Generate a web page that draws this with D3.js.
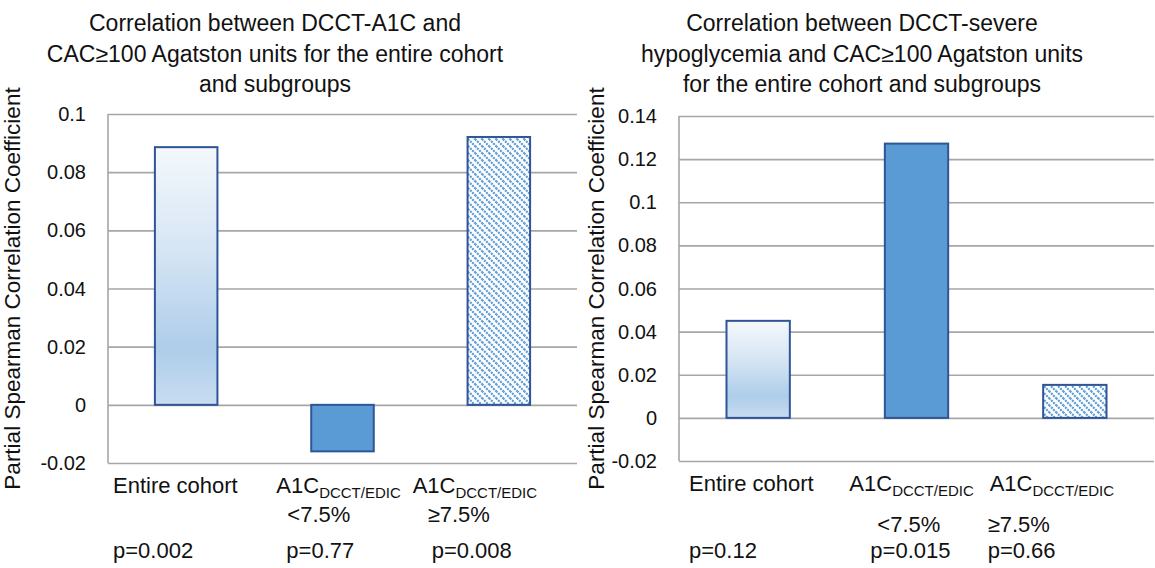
<!DOCTYPE html>
<html>
<head>
<meta charset="utf-8">
<script src="https://cdn.jsdelivr.net/npm/d3@7"></script>
<style>
  body { margin: 0; background: #fff; }
  svg text { font-family: "Liberation Sans", Arial, sans-serif; fill: #111; }
  .grid line { stroke: #a6a6a6; stroke-width: 1.6; }
  .grid path { display: none; }
</style>
</head>
<body>
<div id="chart"></div>
<script>
// categories and values
var categories = ["Entire cohort", "A1C <7.5%", "A1C ≥7.5%"];
var a1cValues = [0.0886, -0.0160, 0.0921];
var hypoValues = [0.0450, 0.1272, 0.0153];
var a1cPvalues = ["p=0.002", "p=0.77", "p=0.008"];
var hypoPvalues = ["p=0.12", "p=0.015", "p=0.66"];
var a1cTicks = [-0.02, 0, 0.02, 0.04, 0.06, 0.08, 0.1];
var hypoTicks = [-0.02, 0, 0.02, 0.04, 0.06, 0.08, 0.1, 0.12, 0.14];
var a1cTitle = ["Correlation between DCCT-A1C and",
                "CAC≥100 Agatston units for the entire cohort",
                "and subgroups"];
var hypoTitle = ["Correlation between DCCT-severe",
                 "hypoglycemia and CAC≥100 Agatston units",
                 "for the entire cohort and subgroups"];

var W = 1155, H = 568;
var svg = d3.select("#chart").append("svg")
    .attr("width", W)
    .attr("height", H);

// fills: gradient, solid, hatch
var defs = svg.append("defs");
var grad = defs.append("linearGradient")
    .attr("id", "barGrad")
    .attr("x1", 0).attr("y1", 0).attr("x2", 0).attr("y2", 1);
grad.append("stop").attr("offset", "0%").attr("stop-color", "#f4f8fc");
grad.append("stop").attr("offset", "40%").attr("stop-color", "#d6e5f4");
grad.append("stop").attr("offset", "78%").attr("stop-color", "#aecdea");
grad.append("stop").attr("offset", "100%").attr("stop-color", "#c9dcf0");

var pat = defs.append("pattern")
    .attr("id", "hatch")
    .attr("patternUnits", "userSpaceOnUse")
    .attr("width", 7).attr("height", 7);
pat.append("rect").attr("width", 7).attr("height", 7).attr("fill", "#fff");
pat.append("path")
    .attr("d", "M-1,-1 L8,8 M-1,6 L1,8 M6,-1 L8,1")
    .attr("stroke", "#5b9bd5")
    .attr("stroke-width", 2.2)
    .attr("stroke-dasharray", "2,1");

var fills = ["url(#barGrad)", "#5b9bd5", "url(#hatch)"];

const drawPanel = (opt) => {
  var x = d3.scaleBand()
      .domain(categories)
      .range([opt.left, opt.right])
      .paddingInner(0.6)
      .paddingOuter(0.3);
  var slot = d3.scaleBand()
      .domain(categories)
      .range([opt.left, opt.right]);
  var y = d3.scaleLinear()
      .domain(d3.extent(opt.ticks))
      .range([opt.bottom, opt.top]);
  var fmt = function(d) { return String(+d.toFixed(2)); };

  var g = svg.append("g");

  // gridlines
  g.append("g")
      .attr("class", "grid")
      .attr("transform", "translate(" + opt.left + ",0)")
      .call(d3.axisLeft(y)
          .tickValues(opt.ticks)
          .tickSize(-(opt.right - opt.left))
          .tickFormat(""));

  // left axis line
  g.append("line")
      .attr("x1", opt.left).attr("x2", opt.left)
      .attr("y1", y(d3.max(opt.ticks))).attr("y2", y(d3.min(opt.ticks)))
      .attr("stroke", "#a6a6a6")
      .attr("stroke-width", 1.6);

  // tick labels
  g.selectAll(".tick-label")
    .data(opt.ticks)
    .enter().append("text")
      .attr("x", opt.left - 22)
      .attr("y", function(d) { return y(d); })
      .attr("dy", "0.35em")
      .attr("text-anchor", "end")
      .style("font-size", "20px")
      .text(fmt);

  // bars
  g.selectAll(".bar")
    .data(opt.values)
    .enter().append("rect")
      .attr("x", function(d, i) { return x(categories[i]); })
      .attr("width", x.bandwidth())
      .attr("y", function(d) { return y(Math.max(0, d)); })
      .attr("height", function(d) { return Math.abs(y(d) - y(0)); })
      .attr("fill", function(d, i) { return fills[i]; })
      .attr("stroke", "#2f5597")
      .attr("stroke-width", 2);

  // y axis title
  g.append("text")
      .attr("transform", "translate(" + opt.yTitleX + "," + ((opt.top + opt.bottom) / 2) + ") rotate(-90)")
      .attr("text-anchor", "middle")
      .style("font-size", "22.5px")
      .text("Partial Spearman Correlation Coefficient");

  // chart title
  g.selectAll(".title")
    .data(opt.title)
    .enter().append("text")
      .attr("x", opt.titleX)
      .attr("y", function(d, i) { return 31 + i * 30.5; })
      .attr("text-anchor", "middle")
      .style("font-size", "23px")
      .text(function(d) { return d; });

  // category labels
  categories.forEach(function(c, i) {
    var x0 = slot(c);
    var t = g.append("text")
        .attr("x", x0 + opt.lab[i])
        .attr("y", opt.labY)
        .style("font-size", "22px");
    if (i === 0) {
      t.text("Entire cohort");
    } else {
      t.append("tspan").text("A1C");
      t.append("tspan")
          .attr("dy", 5)
          .style("font-size", "15px")
          .text("DCCT/EDIC");
      g.append("text")
          .attr("x", x0 + opt.sub[i])
          .attr("y", opt.subY)
          .style("font-size", "22px")
          .text(i === 1 ? "<7.5%" : "≥7.5%");
    }
  });

  // p values
  g.selectAll(".pval")
    .data(opt.pvals)
    .enter().append("text")
      .attr("x", function(d, i) { return slot(categories[i]) + opt.pv[i]; })
      .attr("y", 558)
      .style("font-size", "22px")
      .text(function(d) { return d; });
};

drawPanel({
  values: a1cValues, ticks: a1cTicks, pvals: a1cPvalues, title: a1cTitle,
  left: 108, right: 577, top: 114, bottom: 463,
  titleX: 275, yTitleX: 20,
  lab: [5, 12, -8], labY: 493,
  sub: [0, 23, 7], subY: 522,
  pv: [5, 22, 11]
});

drawPanel({
  values: hypoValues, ticks: hypoTicks, pvals: hypoPvalues, title: hypoTitle,
  left: 679, right: 1154, top: 116, bottom: 461,
  titleX: 862, yTitleX: 604,
  lab: [10, 12, -6], labY: 491,
  sub: [0, 40, -8], subY: 532,
  pv: [10, 33, -8]
});
</script>
</body>
</html>
